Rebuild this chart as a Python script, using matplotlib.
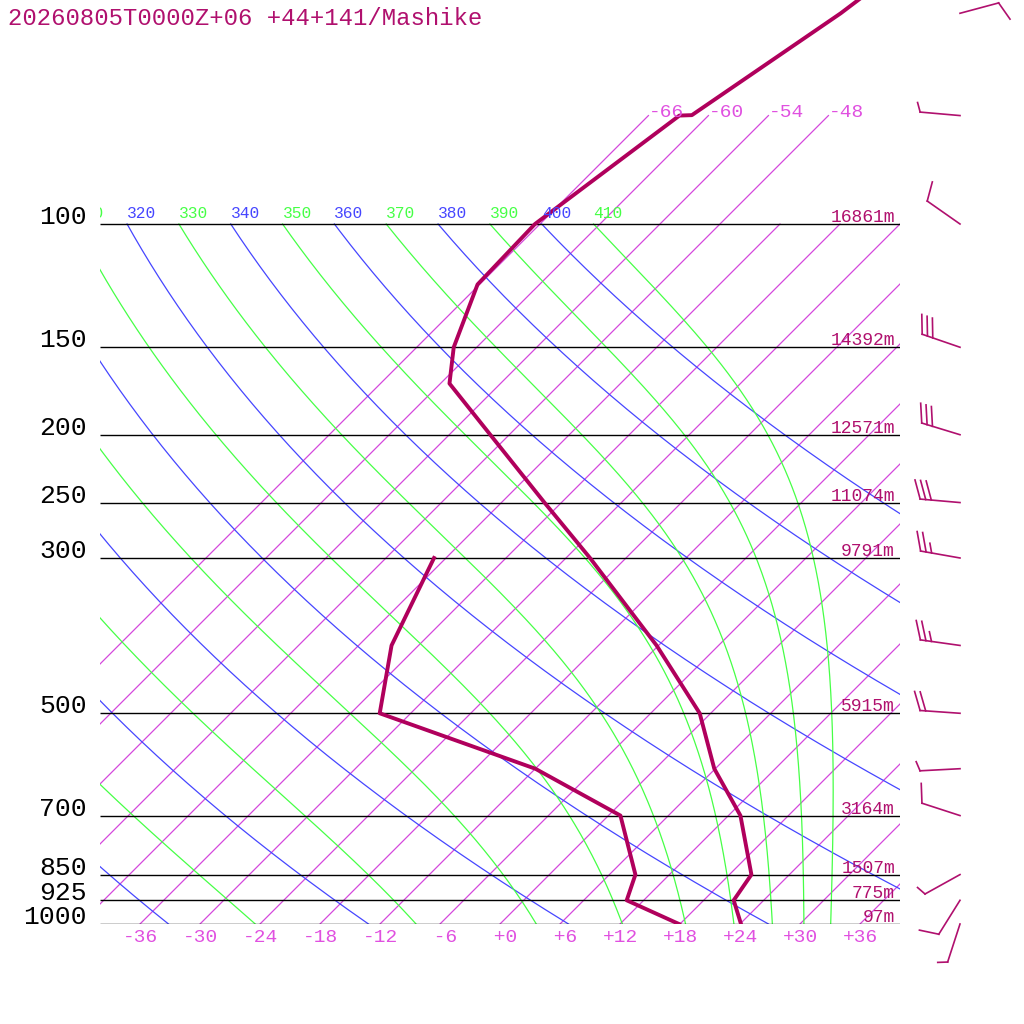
import numpy as np
import matplotlib
matplotlib.use("Agg")
import matplotlib.pyplot as plt
from matplotlib import transforms

title = "20260805T0000Z+06 +44+141/Mashike"

# temperature profile (hPa, degC)
t_pres = [1000, 925, 850, 700, 600, 500, 400, 300, 250, 200, 169, 150, 122, 100, 70, 69.9, 50, 30]
t_temp = [24.1, 21.0, 20.2, 13.2, 5.9, -1.1, -12.2, -27.6, -37.7, -49.9, -59.1, -62.3, -66.2, -66.5,
          -62.9, -61.7, -57.0, -52.0]
# dewpoint profile
td_pres = [1000, 925, 850, 700, 600, 500, 400, 300]
td_temp = [17.9, 10.3, 8.6, 1.2, -12.0, -33.1, -38.7, -43.2]

# wind (hPa, deg, kt)
w_pres = [1000, 925, 850, 700, 600, 500, 400, 300, 250, 200, 150, 100, 70, 50]
w_dir = [198, 212, 241, 288, 267, 274, 278, 280, 275, 287, 289, 305, 275, 75]
w_spd = [5, 10, 5, 10, 5, 20, 25, 25, 30, 30, 30, 10, 5, 10]

# isobars and their heights
lev_pres = [1000, 925, 850, 700, 500, 300, 250, 200, 150, 100]
lev_hgt = [97, 775, 1507, 3164, 5915, 9791, 11074, 12571, 14392, 16861]

isotherms = list(range(-66, 37, 6))
iso_bottom = list(range(-36, 37, 6))
iso_upper = [-66, -60, -54, -48]
dry_thetas = list(range(240, 401, 20))
moist_thetas = list(range(250, 411, 20))
theta_label_min = 310

SKEW = 70.0
KAPPA = 287.04 / 1005.7
P_TOP = 1000 / 10 ** (924 / 700)

C_ISO = "#d448dc"
C_DRY = "#4646ff"
C_MOIST = "#46ff46"
C_PROF = "#b0005c"
C_TXT = "#b0106e"


def skew(t, p):
    return np.asarray(t, dtype=float) + SKEW * np.log10(1000.0 / np.asarray(p, dtype=float))


def moist_adiabat(theta, p):
    # pseudo-adiabat integrated downward from p[0] (rk4)
    Rd, Cp, Lv, eps = 287.04, 1005.7, 2.501e6, 0.622

    def dtdp(t, pp):
        es = 6.112 * np.exp(17.67 * (t - 273.15) / (t - 29.65))
        rs = eps * es / (pp - es)
        return (Rd * t + Lv * rs) / (Cp + Lv ** 2 * rs * eps / (Rd * t ** 2)) / pp

    t = theta * (p[0] / 1000.0) ** KAPPA
    out = [t]
    for p0, p1 in zip(p[:-1], p[1:]):
        h = p1 - p0
        k1 = dtdp(t, p0)
        k2 = dtdp(t + h * k1 / 2, p0 + h / 2)
        k3 = dtdp(t + h * k2 / 2, p0 + h / 2)
        k4 = dtdp(t + h * k3, p1)
        t = t + h * (k1 + 2 * k2 + 2 * k3 + k4) / 6
        out.append(t)
    return np.array(out) - 273.15


plt.rcParams['font.family'] = ['Liberation Mono', 'DejaVu Sans Mono']

fig = plt.figure(figsize=(10.24, 10.24), dpi=100, facecolor='white')
ax = fig.add_axes([100 / 1024, 100 / 1024, 800 / 1024, 924 / 1024])
ax.set_yscale('log')
ax.set_ylim(1000, P_TOP)
ax.set_xlim(-40, 40)
ax.axis('off')

pp = np.geomspace(1000, 100, 300)

# isotherms
for t in isotherms:
    ptop = 70 if t in iso_upper else 100
    p = np.geomspace(1000, ptop, 50)
    ax.plot(skew(np.full_like(p, t), p), p, color=C_ISO, lw=0.9)

# dry adiabats
for th in dry_thetas:
    tt = th * (pp / 1000) ** KAPPA - 273.15
    ax.plot(skew(tt, pp), pp, color=C_DRY, lw=0.9)

# moist adiabats
pm = np.geomspace(100, 1000, 400)
for th in moist_thetas:
    tt = moist_adiabat(th, pm)
    ax.plot(skew(tt, pm), pm, color=C_MOIST, lw=0.9)

# isobars
ax.hlines(lev_pres, -40, 40, color='black', lw=1.0)

# profiles
ax.plot(skew(t_temp, t_pres), t_pres, color=C_PROF, lw=2.8)
ax.plot(skew(td_temp, td_pres), td_pres, color=C_PROF, lw=2.8)

# labels
up = lambda d: transforms.offset_copy(ax.transData, fig=fig, x=0, y=d, units='dots')

for p in lev_pres:
    ax.text(-41.3, p, str(p), ha='right', va='baseline', fontsize=19, color='black')
for p, h in zip(lev_pres, lev_hgt):
    ax.text(39.5, p, f"{h}m", ha='right', va='baseline', fontsize=13, color=C_TXT,
            transform=up(2))
for t in iso_bottom:
    ax.text(t, 1000, f"{t:+d}".rjust(3), ha='center', va='baseline', fontsize=14,
            color="#e050e0", transform=up(-17.5))
for t in iso_upper:
    ax.text(skew(t, 70), 70, f"{t:+d}", ha='left', va='baseline', fontsize=14,
            color="#e050e0", transform=up(-1))
labels = [(th, C_DRY) for th in dry_thetas] + [(th, C_MOIST) for th in moist_thetas]
for th, col in labels:
    if th < theta_label_min:
        continue
    x = skew(th * 0.1 ** KAPPA - 273.15, 100)
    ax.text(x, 100, str(th), ha='left', va='baseline', fontsize=11.7, color=col,
            transform=up(5.5), clip_on=True)

fig.text(8 / 1024, 1 - 25 / 1024, title, ha='left', va='baseline', fontsize=17.2, color=C_TXT)

# wind barbs, 1 unit = 1 pixel
bax = fig.add_axes([900 / 1024, 0, 124 / 1024, 1])
bax.set_xlim(-60, 64)
bax.set_ylim(-100, 924)
bax.axis('off')
L = 40
for p, d, s in zip(w_pres, w_dir, w_spd):
    h = 700 * np.log10(1000 / p)
    sx, sy = np.sin(np.radians(d)), np.cos(np.radians(d))
    nx, ny = sy, -sx
    bax.plot([0, L * sx], [h, h + L * sy], color=C_TXT, lw=1.2)
    pos = L
    for frac in [1.0] * (s // 10) + [0.5] * ((s % 10) // 5):
        bx, by = pos * sx, h + pos * sy
        ex = bx + frac * L * (0.465 * nx + 0.17 * sx)
        ey = by + frac * L * (0.465 * ny + 0.17 * sy)
        bax.plot([bx, ex], [by, ey], color=C_TXT, lw=1.2)
        pos -= 0.14 * L

fig.savefig("out.png", dpi=100, facecolor='white')
